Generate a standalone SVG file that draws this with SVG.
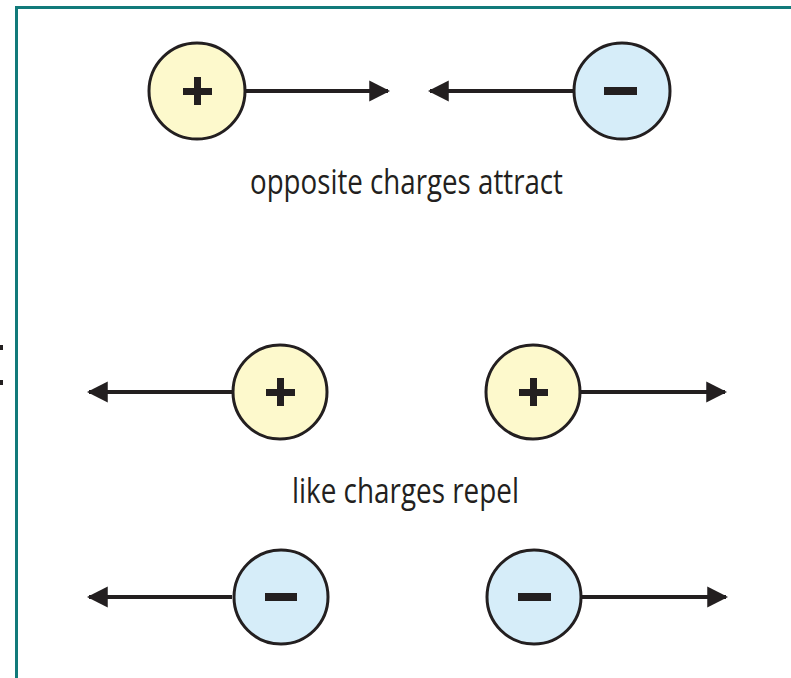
<svg xmlns="http://www.w3.org/2000/svg" width="791" height="678" viewBox="0 0 791 678">
<style>
.pos{fill:#fdf9cc;stroke:#231f20;stroke-width:3}
.neg{fill:#d6edf9;stroke:#231f20;stroke-width:3}
.sign{fill:#231f20}
.conn line{stroke:#231f20;stroke-width:4}
.lbl{font-family:"Open Sans","Noto Sans",sans-serif;font-size:34px;fill:#231f20}
</style>
<defs>
<marker id="ah" viewBox="0 0 10 10" refX="9" refY="5" markerWidth="5.2" markerHeight="5.6" markerUnits="strokeWidth" orient="auto">
<path d="M0,0 L10,5 L0,10 z" fill="#231f20"/>
</marker>
</defs>
<rect width="791" height="678" fill="#ffffff"/>
<g id="frame" fill="#117a7a">
<rect x="15" y="6" width="776" height="3"/>
<rect x="15" y="6" width="3" height="672"/>
</g>
<g id="marks" fill="#231f20">
<rect x="0" y="345" width="3" height="5"/>
<rect x="0" y="380" width="3" height="5"/>
</g>
<g id="connectors" class="conn">
<line x1="245" y1="91" x2="388" y2="91" marker-end="url(#ah)"/>
<line x1="574" y1="91" x2="430" y2="91" marker-end="url(#ah)"/>
<line x1="232" y1="392" x2="89" y2="392" marker-end="url(#ah)"/>
<line x1="581" y1="392" x2="725" y2="392" marker-end="url(#ah)"/>
<line x1="232" y1="597" x2="89" y2="597" marker-end="url(#ah)"/>
<line x1="581" y1="597" x2="726" y2="597" marker-end="url(#ah)"/>
</g>
<g id="p1"><circle class="pos" cx="197" cy="91" r="48"/><rect class="sign" x="183" y="88" width="29" height="7"/><rect class="sign" x="194" y="77" width="7" height="28"/></g>
<g id="n1"><circle class="neg" cx="622" cy="91" r="48"/><rect class="sign" x="604" y="87" width="33" height="8"/></g>
<g id="p2"><circle class="pos" cx="280" cy="392" r="47"/><rect class="sign" x="266" y="389" width="29" height="7"/><rect class="sign" x="277" y="378" width="7" height="28"/></g>
<g id="p3"><circle class="pos" cx="533" cy="392" r="47"/><rect class="sign" x="519" y="389" width="29" height="7"/><rect class="sign" x="530" y="378" width="7" height="28"/></g>
<g id="n2"><circle class="neg" cx="281" cy="597" r="47"/><rect class="sign" x="265" y="593" width="32" height="8"/></g>
<g id="n3"><circle class="neg" cx="534" cy="597" r="47"/><rect class="sign" x="518" y="593" width="33" height="8"/></g>
<g id="labels">
<text class="lbl" x="250" y="194" textLength="313" lengthAdjust="spacingAndGlyphs">opposite charges attract</text>
<text class="lbl" x="292" y="503" textLength="227" lengthAdjust="spacingAndGlyphs">like charges repel</text>
</g>
</svg>
